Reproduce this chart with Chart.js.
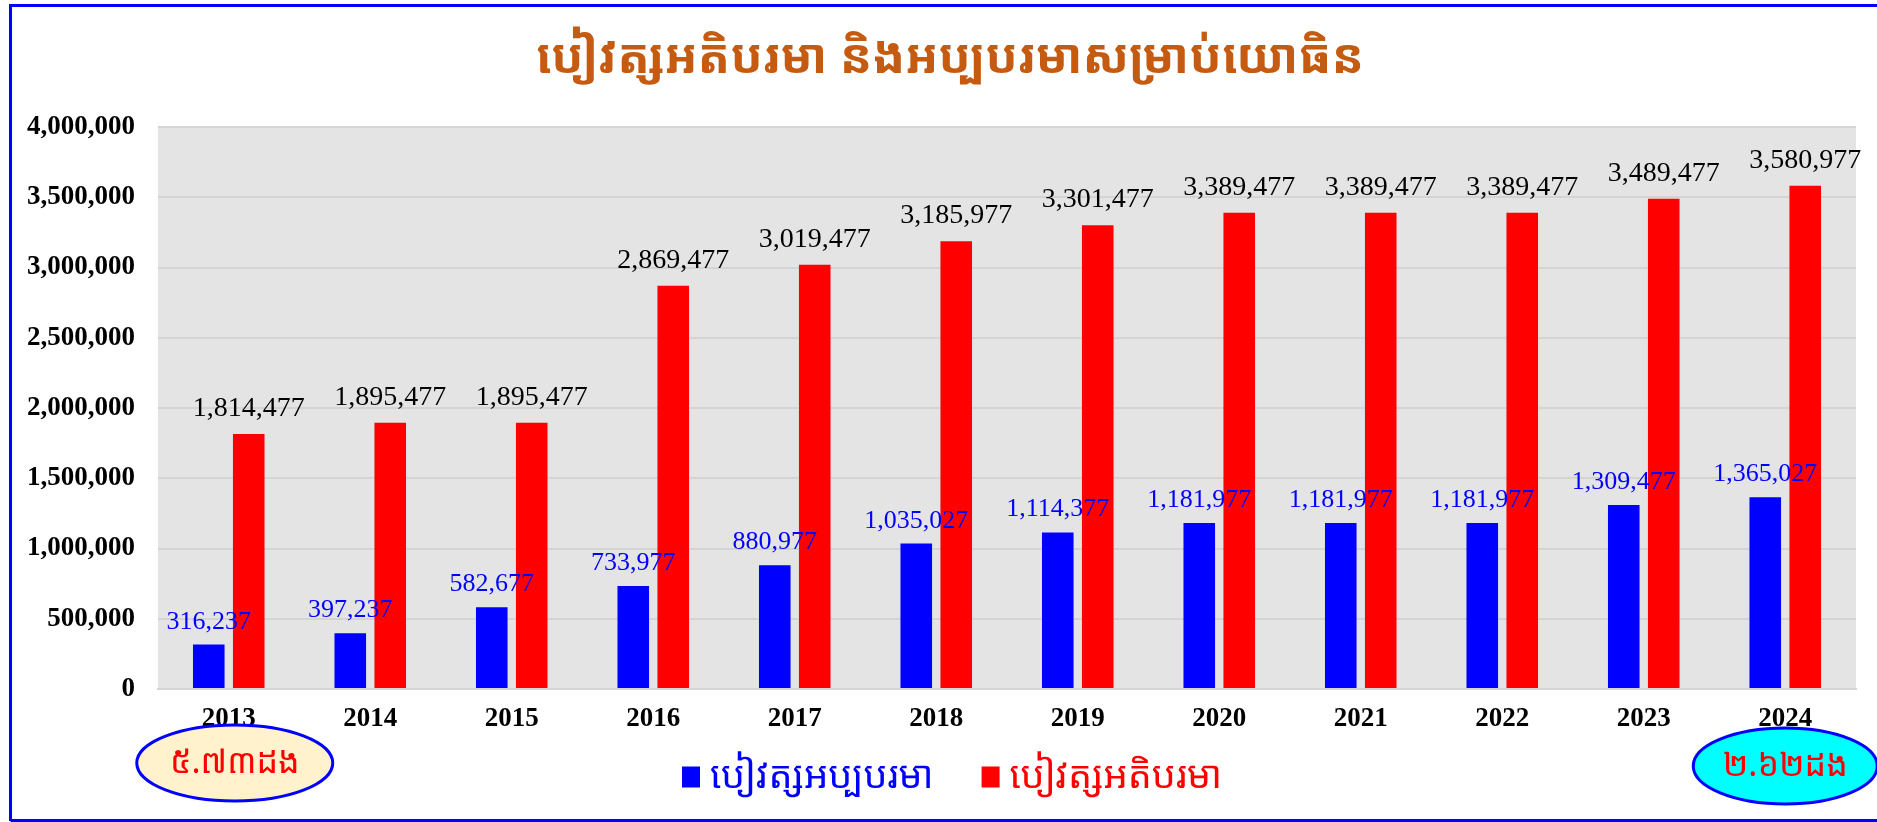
<!DOCTYPE html>
<html>
<head>
<meta charset="utf-8">
<script src="https://cdn.jsdelivr.net/npm/chart.js@4.4.1/dist/chart.umd.min.js"></script>
<style>
	body { margin: 0; background: #fff; }
	canvas { display: block; }
</style>
</head>
<body>
<canvas id="salary-chart" width="1877" height="822"></canvas>
<script>
const years = ['2013', '2014', '2015', '2016', '2017', '2018', '2019', '2020', '2021', '2022', '2023', '2024'];
const minSalary = [316237, 397237, 582677, 733977, 880977, 1035027, 1114377, 1181977, 1181977, 1181977, 1309477, 1365027];
const maxSalary = [1814477, 1895477, 1895477, 2869477, 3019477, 3185977, 3301477, 3389477, 3389477, 3389477, 3489477, 3580977];
const seriesNames = ['បៀវត្សអប្បបរមា', 'បៀវត្សអតិបរមា'];
const titleText = 'បៀវត្សអតិបរមា និងអប្បបរមាសម្រាប់យោធិន';
const ratioNotes = ['៥.៧៣ដង', '២.៦២ដង'];

const khmerFont = '"Noto Sans Khmer", "Noto Serif Khmer", "Khmer OS", "Khmer OS System", sans-serif';
const serifFont = '"Liberation Serif", "Times New Roman", serif';
const fmt = (v) => v.toLocaleString('en-US');

// white page, blue frame, grey plot background and the title
const backdrop = {
	id: 'backdrop',
	beforeDraw(chart) {
		const { ctx, chartArea } = chart;
		ctx.save();
		ctx.fillStyle = '#ffffff';
		ctx.fillRect(0, 0, chart.width, chart.height);
		ctx.fillStyle = '#e4e4e4';
		ctx.fillRect(chartArea.left, chartArea.top, chartArea.right - chartArea.left, chartArea.bottom - chartArea.top);
		ctx.strokeStyle = '#0000ff';
		ctx.lineWidth = 3;
		ctx.beginPath();
		ctx.moveTo(10.5, 821);
		ctx.lineTo(10.5, 5.5);
		ctx.lineTo(chart.width, 5.5);
		ctx.moveTo(10.5, 820.5);
		ctx.lineTo(chart.width, 820.5);
		ctx.stroke();

		ctx.fillStyle = '#c55a11';
		ctx.font = 'bold 48px ' + khmerFont;
		ctx.textAlign = 'center';
		ctx.textBaseline = 'middle';
		ctx.fillText(titleText, 950, 59);
		ctx.restore();
	},
};

// value labels above each bar
const valueLabels = {
	id: 'valueLabels',
	afterDatasetsDraw(chart) {
		const { ctx } = chart;
		ctx.save();
		ctx.textAlign = 'center';
		ctx.textBaseline = 'alphabetic';
		chart.data.datasets.forEach((ds, di) => {
			const meta = chart.getDatasetMeta(di);
			ctx.fillStyle = di === 0 ? '#0000ff' : '#000000';
			ctx.font = (di === 0 ? '26px ' : '28px ') + serifFont;
			const gap = di === 0 ? 16 : 18;
			meta.data.forEach((bar, i) => {
				ctx.fillText(fmt(ds.data[i]), bar.x, bar.y - gap);
			});
		});
		ctx.restore();
	},
};

// legend row (square + coloured khmer text), centred under the plot
const legendRow = {
	id: 'legendRow',
	afterDraw(chart) {
		const { ctx } = chart;
		const cy = 777;
		ctx.save();
		ctx.font = '38px ' + khmerFont;
		ctx.textBaseline = 'middle';
		ctx.textAlign = 'left';
		const items = chart.data.datasets.map((ds) => ({
			text: ds.label,
			color: ds.backgroundColor,
			w: ctx.measureText(ds.label).width,
		}));
		const total = items.reduce((s, it) => s + 18 + 10 + it.w, 0) + 48 * (items.length - 1);
		let x = 952 - total / 2;
		items.forEach((it) => {
			ctx.fillStyle = it.color;
			ctx.fillRect(x, cy - 10.5, 18, 21);
			x += 28;
			ctx.fillText(it.text, x, cy);
			x += it.w + 48;
		});
		ctx.restore();
	},
};

// ratio ellipses under first and last year
const ratioBubbles = {
	id: 'ratioBubbles',
	afterDraw(chart) {
		const { ctx } = chart;
		const x = chart.scales.x;
		const spots = [
			{ cx: x.getPixelForValue(0) + 6, cy: 763, rx: 98, ry: 38, fill: '#fff2cc' },
			{ cx: x.getPixelForValue(years.length - 1), cy: 766, rx: 92, ry: 38, fill: '#00ffff' },
		];
		ctx.save();
		spots.forEach((s, i) => {
			ctx.beginPath();
			ctx.ellipse(s.cx, s.cy, s.rx, s.ry, 0, 0, Math.PI * 2);
			ctx.fillStyle = s.fill;
			ctx.fill();
			ctx.lineWidth = 3;
			ctx.strokeStyle = '#0000ff';
			ctx.stroke();
			ctx.fillStyle = '#ff0000';
			ctx.font = '34px ' + khmerFont;
			ctx.textAlign = 'center';
			ctx.textBaseline = 'middle';
			ctx.fillText(ratioNotes[i], s.cx, s.cy);
		});
		ctx.restore();
	},
};

const ctx = document.getElementById('salary-chart');

new Chart(ctx, {
	type: 'bar',
	data: {
		labels: years,
		datasets: [
			{
				label: seriesNames[0],
				data: minSalary,
				backgroundColor: '#0000ff',
				borderWidth: 0,
				barPercentage: 0.79,
				categoryPercentage: 0.565,
			},
			{
				label: seriesNames[1],
				data: maxSalary,
				backgroundColor: '#ff0000',
				borderWidth: 0,
				barPercentage: 0.79,
				categoryPercentage: 0.565,
			},
		],
	},
	options: {
		responsive: false,
		animation: false,
		layout: {
			padding: { left: 20, right: 21, top: 127, bottom: 73 },
		},
		plugins: {
			title: { display: false },
			legend: { display: false },
			tooltip: { enabled: false },
		},
		scales: {
			x: {
				grid: { display: false, drawTicks: false },
				border: { color: '#d4d4d4', width: 2 },
				ticks: {
					color: '#000',
					padding: 14,
					font: { family: serifFont, size: 27, weight: 'bold' },
				},
				afterFit(scale) {
					scale.height = 60;
				},
			},
			y: {
				min: 0,
				max: 4000000,
				grid: { color: '#d4d4d4', lineWidth: 2, drawTicks: false },
				border: { display: false },
				ticks: {
					stepSize: 500000,
					color: '#000',
					padding: 23,
					font: { family: serifFont, size: 27, weight: 'bold' },
					callback: (v) => fmt(v),
				},
				afterFit(scale) {
					scale.width = 138;
				},
			},
		},
	},
	plugins: [backdrop, valueLabels, legendRow, ratioBubbles],
});
</script>
</body>
</html>
